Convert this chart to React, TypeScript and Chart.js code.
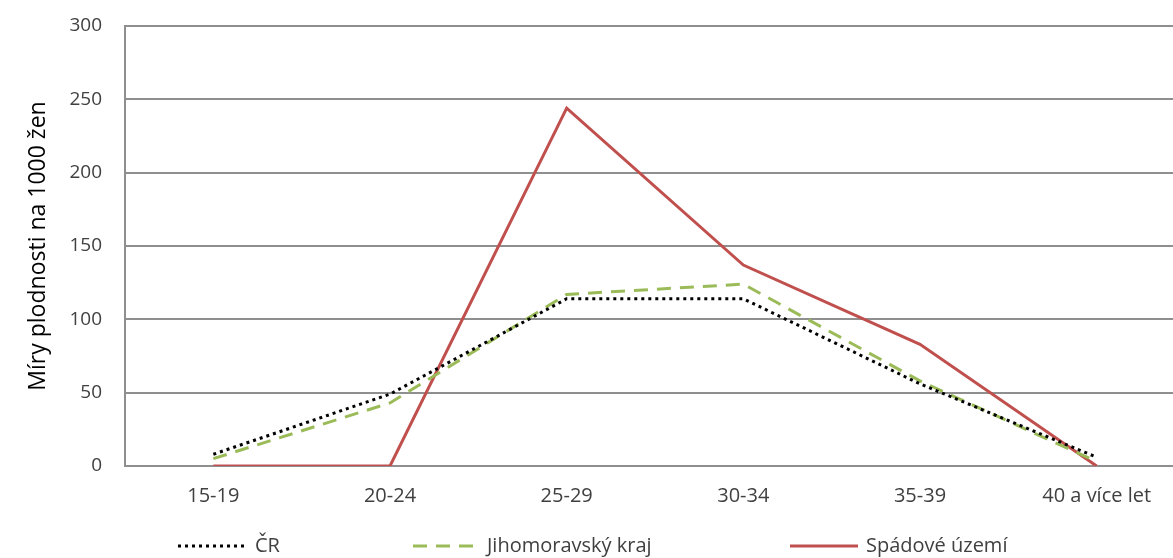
import React, { useEffect, useRef } from "react";
import { Chart, registerables } from "chart.js";

Chart.register(...registerables);

const categories = ["15-19", "20-24", "25-29", "30-34", "35-39", "40 a více let"];
const crValues = [8, 49, 114, 114, 56, 6];
const jmkValues = [5, 43, 117, 124, 58, 3];
const spadoveValues = [0, 0, 244, 137, 83, 0];
const seriesNames = ["ČR", "Jihomoravský kraj", "Spádové území"];
const yAxisTitle = "Míry plodnosti na 1000 žen";
const yMin = 0;
const yMax = 300;
const yStep = 50;

const FONT = "'Open Sans', Lato, sans-serif";
const GRID = "#8f8f8f";
const TEXT = "#404040";

const legendLayout = [
  { x0: 178, x1: 245, tx: 255 },
  { x0: 413, x1: 478, tx: 487 },
  { x0: 790, x1: 858, tx: 866 },
];
const legendY = 546;

const customLegend = {
  id: "customLegend",
  afterDraw(chart: any) {
    const ctx = chart.ctx as CanvasRenderingContext2D;
    ctx.save();
    chart.data.datasets.forEach((ds: any, i: number) => {
      const pos = legendLayout[i];
      if (!pos) return;
      ctx.beginPath();
      ctx.strokeStyle = ds.borderColor;
      ctx.lineWidth = ds.borderWidth;
      ctx.setLineDash(ds.borderDash || []);
      ctx.lineCap = "butt";
      ctx.moveTo(pos.x0, legendY);
      ctx.lineTo(pos.x1, legendY);
      ctx.stroke();
      ctx.setLineDash([]);
      ctx.fillStyle = TEXT;
      ctx.font = `20px ${FONT}`;
      ctx.textBaseline = "middle";
      ctx.textAlign = "left";
      ctx.fillText(ds.label, pos.tx, legendY);
    });
    ctx.restore();
  },
};

export default function App() {
  const ref = useRef<HTMLCanvasElement | null>(null);

  useEffect(() => {
    document.body.style.margin = "0";
    if (!ref.current) return;
    const chart = new Chart(ref.current, {
      type: "line",
      data: {
        labels: categories,
        datasets: [
          {
            label: seriesNames[0],
            data: crValues,
            borderColor: "#000000",
            borderWidth: 3,
            borderDash: [3, 4],
            pointRadius: 0,
            tension: 0,
          },
          {
            label: seriesNames[1],
            data: jmkValues,
            borderColor: "#9BBB59",
            borderWidth: 3,
            borderDash: [14, 9],
            pointRadius: 0,
            tension: 0,
          },
          {
            label: seriesNames[2],
            data: spadoveValues,
            borderColor: "#C0504D",
            borderWidth: 3,
            pointRadius: 0,
            tension: 0,
          },
        ],
      },
      options: {
        animation: false,
        responsive: false,
        layout: { padding: { top: 26, bottom: 32, left: 0, right: 0 } },
        plugins: {
          legend: { display: false },
          tooltip: { enabled: false },
        },
        scales: {
          x: {
            type: "category",
            offset: true,
            grid: { display: false, drawTicks: false },
            border: { display: true, color: GRID, width: 2 },
            ticks: {
              color: TEXT,
              font: { family: FONT, size: 20 },
              padding: 18,
              maxRotation: 0,
              autoSkip: false,
            },
          },
          y: {
            min: yMin,
            max: yMax,
            ticks: {
              stepSize: yStep,
              color: TEXT,
              font: { family: FONT, size: 19 },
              padding: 23,
            },
            grid: { color: GRID, lineWidth: 2, drawTicks: false },
            border: { display: true, color: GRID, width: 2 },
            title: {
              display: true,
              text: yAxisTitle,
              color: "#000000",
              font: { family: FONT, size: 23 },
              padding: { top: 25, bottom: 0 },
            },
            afterFit: (scale: any) => {
              scale.width = 125;
              scale.paddingTop = 0;
              scale.paddingBottom = 0;
            },
          },
        },
      },
      plugins: [customLegend],
    });
    return () => chart.destroy();
  }, []);

  return (
    <div style={{ width: 1173, height: 558, overflow: "hidden", position: "relative" }}>
      <canvas ref={ref} width={1185} height={558} style={{ display: "block" }} />
    </div>
  );
}
